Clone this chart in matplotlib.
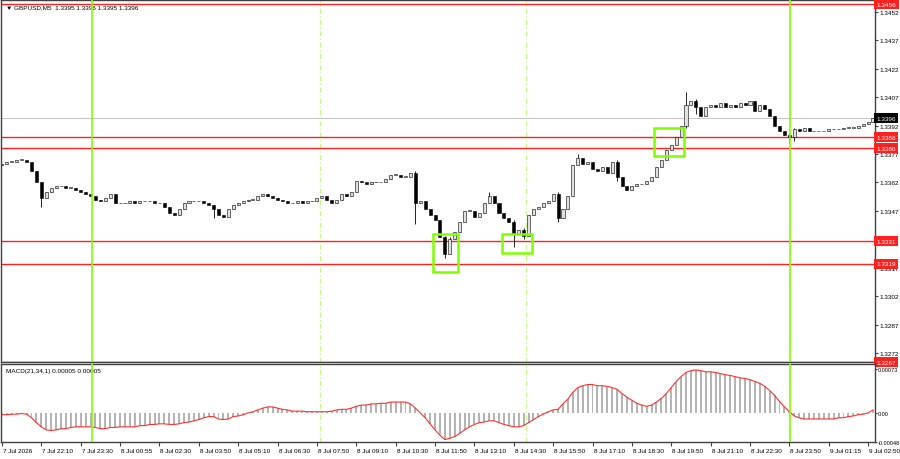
import numpy as np
import matplotlib.pyplot as plt
import matplotlib.transforms as mtransforms
from matplotlib.patches import Rectangle

plt.rcParams['font.family'] = ['Liberation Sans', 'DejaVu Sans']

# GBPUSD closes, one bar per 10 min
closes = [1.3372, 1.3373, 1.3373, 1.3374, 1.3374, 1.3373, 1.3368, 1.3362,
          1.3354, 1.3357, 1.3359, 1.3360, 1.3360, 1.3359, 1.3359, 1.3358,
          1.3357, 1.3356, 1.3355, 1.3353, 1.3352, 1.3354, 1.3356, 1.3351,
          1.3351, 1.3351, 1.3352, 1.3351, 1.3352, 1.3352, 1.3352, 1.3351,
          1.3351, 1.3349, 1.3346, 1.3345, 1.3348, 1.3351, 1.3352, 1.3352,
          1.3352, 1.3351, 1.3350, 1.3348, 1.3345, 1.3344, 1.3348, 1.3350,
          1.3351, 1.3352, 1.3353, 1.3353, 1.3355, 1.3356, 1.3355, 1.3354,
          1.3353, 1.3352, 1.3351, 1.3351, 1.3352, 1.3351, 1.3352, 1.3352,
          1.3354, 1.3355, 1.3353, 1.3351, 1.3353, 1.3356, 1.3355, 1.3357,
          1.3363, 1.3362, 1.3361, 1.3362, 1.3362, 1.3362, 1.3364, 1.3366,
          1.3366, 1.3365, 1.3365, 1.3367, 1.3351, 1.3352, 1.3348, 1.3345,
          1.3342, 1.3333, 1.3324, 1.3332, 1.3336, 1.3341, 1.3347, 1.3347,
          1.3344, 1.3346, 1.3351, 1.3355, 1.3351, 1.3346, 1.3343, 1.3341,
          1.3335, 1.3337, 1.3334, 1.3345, 1.3348, 1.3349, 1.3351, 1.3352,
          1.3356, 1.3343, 1.3348, 1.3355, 1.3371, 1.3375, 1.3372, 1.3373,
          1.3369, 1.3368, 1.3370, 1.3367, 1.3373, 1.3365, 1.3360, 1.3358,
          1.3360, 1.3361, 1.3361, 1.3363, 1.3365, 1.3370, 1.3374, 1.3379,
          1.3382, 1.3386, 1.3392, 1.3403, 1.3405, 1.3402, 1.3397, 1.3402,
          1.3403, 1.3402, 1.3404, 1.3402, 1.3403, 1.3402, 1.3404, 1.3403,
          1.3405, 1.3400, 1.3403, 1.3401, 1.3397, 1.3392, 1.3389, 1.3387,
          1.3386, 1.3390, 1.3389, 1.3391, 1.3389, 1.3389, 1.3389, 1.3389,
          1.3390, 1.3390, 1.3390, 1.3391, 1.3391, 1.3391, 1.3392, 1.3393,
          1.3394, 1.3396]
first_open = 1.3371

# wick extremes that stand out (bar index: (high, low))
wicks = {8: (1.3362, 1.3349), 43: (1.3350, 1.3343), 84: (1.3368, 1.3340),
         90: (1.3334, 1.3322), 91: (1.3333, 1.3324), 99: (1.3357, 1.3351),
         104: (1.3342, 1.3328), 106: (1.3338, 1.3332), 113: (1.3357, 1.3341),
         117: (1.3377, 1.3371), 125: (1.3374, 1.3363), 139: (1.3410, 1.3391),
         141: (1.3406, 1.3398), 160: (1.3388, 1.3383), 161: (1.3391, 1.3384)}

# MACD(21,34,1) in units of 1e-5
macd_e5 = [-3, -3, -2, -2, -1, -2, -8, -16, -23, -28, -29, -28, -26, -26, -24, -23,
           -23, -23, -23, -24, -26, -26, -24, -24, -23, -23, -23, -23, -21, -21, -19, -19,
           -18, -18, -19, -19, -18, -16, -15, -13, -11, -8, -6, -6, -10, -11, -10, -6,
           -5, -3, 0, 2, 5, 8, 10, 10, 8, 6, 5, 3, 3, 3, 2, 2,
           2, 2, 2, 3, 5, 6, 6, 8, 11, 13, 13, 15, 15, 16, 16, 18,
           18, 18, 18, 15, 8, 0, -8, -18, -28, -37, -44, -42, -39, -34, -28, -23,
           -19, -16, -15, -13, -13, -16, -19, -21, -23, -23, -21, -16, -11, -6, -2, 2,
           5, 6, 15, 23, 34, 42, 45, 47, 47, 45, 45, 44, 42, 39, 32, 26,
           21, 16, 13, 11, 13, 18, 24, 32, 42, 52, 60, 67, 70, 71, 70, 68,
           68, 67, 65, 63, 62, 60, 58, 57, 55, 52, 49, 44, 37, 29, 19, 10,
           2, -5, -8, -10, -10, -10, -10, -10, -10, -10, -8, -8, -6, -5, -3, -2,
           0, 5]

time_labels = ['7 Jul 2026', '7 Jul 22:10', '7 Jul 23:30', '8 Jul 00:55', '8 Jul 02:30',
               '8 Jul 03:50', '8 Jul 05:10', '8 Jul 06:30', '8 Jul 07:50', '8 Jul 09:10',
               '8 Jul 10:30', '8 Jul 11:50', '8 Jul 13:10', '8 Jul 14:30', '8 Jul 15:50',
               '8 Jul 17:10', '8 Jul 18:30', '8 Jul 19:50', '8 Jul 21:10', '8 Jul 22:30',
               '8 Jul 23:50', '9 Jul 01:15', '9 Jul 02:50']

levels = [1.3456, 1.3386, 1.3380, 1.3331, 1.3319, 1.3267]
last_price = 1.3396
# 1.3332 sits under the 1.3331 level tag, so it is left out
price_ticks = [1.3452, 1.3437, 1.3422, 1.3407, 1.3392, 1.3377, 1.3362, 1.3347,
               1.3317, 1.3302, 1.3287, 1.3272]
session_lines = [18.3, 160.2]
hour_lines = [64.6, 106.5]
# signal boxes: bar from, bar to, price low, price high
boxes = [(87.6, 92.7, 1.3315, 1.3335),
         (101.6, 107.7, 1.3325, 1.3335),
         (132.5, 138.6, 1.3376, 1.3391)]

n = len(closes)
x = np.arange(n)
closes = np.array(closes)
opens = np.concatenate([[first_open], closes[:-1]])
highs = np.maximum(opens, closes)
lows = np.minimum(opens, closes)
for i, (h, l) in wicks.items():
    highs[i] = max(highs[i], h)
    lows[i] = min(lows[i], l)
macd = np.array(macd_e5) * 1e-5

fig = plt.figure(figsize=(9, 4.6), dpi=100)
ax = fig.add_axes([0.0011, 0.2109, 0.9711, 0.7869])
ax2 = fig.add_axes([0.0011, 0.0370, 0.9711, 0.1696], sharex=ax)
fs = 4.6

# candles
up = closes >= opens
ax.vlines(x, lows, highs, color='black', lw=0.6, zorder=3)
body = np.maximum(np.abs(closes - opens), 0.00004)
ax.bar(x[up], body[up], bottom=opens[up], width=0.62, color='#e0e0e0',
       edgecolor='black', lw=0.4, zorder=4)
ax.bar(x[~up], body[~up], bottom=closes[~up], width=0.62, color='black',
       edgecolor='black', lw=0.4, zorder=4)

ax.axhline(last_price, color='#c8c8c8', lw=0.8, zorder=1)
for lv in levels:
    ax.axhline(lv, color='#ff2020', lw=1.0, zorder=2)

for a in (ax, ax2):
    for xv in session_lines:
        a.axvline(xv, color='#7fff00', lw=1.2, zorder=5)
    for xv in hour_lines:
        a.axvline(xv, color='#c8f58a', lw=0.9, ls=(0, (4, 2, 1, 2)), zorder=0)

for b0, b1, p0, p1 in boxes:
    ax.add_patch(Rectangle((b0, p0), b1 - b0, p1 - p0, fill=False,
                           edgecolor='#7fff00', lw=1.8, zorder=6))

ax.set_xlim(-0.2, 177.4)
ax.set_ylim(1.326724, 1.345833)
ax.yaxis.tick_right()
ax.set_yticks(price_ticks)
ax.set_yticklabels([f'{p:.4f}' for p in price_ticks])
ax.tick_params(axis='y', labelsize=fs, length=2, pad=1.5, color='#404040')
ax.tick_params(axis='x', bottom=False, labelbottom=False)

trans = mtransforms.blended_transform_factory(ax.transAxes, ax.transData)
for lv in levels:
    ax.text(1.0015, lv, f'{lv:.4f}', transform=trans, color='white', fontsize=fs,
            va='center', ha='left', clip_on=False, zorder=10,
            bbox=dict(boxstyle='square,pad=0.4', fc='#ff2020', ec='none'))
ax.text(1.0015, last_price, f'{last_price:.4f}', transform=trans, color='white',
        fontsize=fs, va='center', ha='left', clip_on=False, zorder=10,
        bbox=dict(boxstyle='square,pad=0.4', fc='black', ec='none'))

ax.text(0.006, 0.988, '\u25bc GBPUSD,M5  1.3395 1.3396 1.3395 1.3396', transform=ax.transAxes,
        fontsize=fs, va='top', ha='left', color='black')

# MACD panel
ax2.bar(x, macd, width=0.4, color='#b4b4b4', zorder=2)
ax2.plot(x, macd, color='#ff3030', lw=0.8, zorder=3)
ax2.set_ylim(-0.00047, 0.00081)
ax2.yaxis.tick_right()
ax2.set_yticks([0.00073, 0.0, -0.00048])
ax2.set_yticklabels(['0.00073', '0.00', '-0.00048'])
ax2.tick_params(axis='y', labelsize=4.0, length=1.5, pad=0.8, color='#404040')
ax2.text(0.006, 0.95, 'MACD(21,34,1) 0.00005 0.00005', transform=ax2.transAxes,
         fontsize=fs, va='top', ha='left', color='black')

tick_pos = np.arange(0, n, 8)[:len(time_labels)]
ax2.set_xticks(tick_pos)
ax2.set_xticklabels(time_labels, ha='left')
ax2.tick_params(axis='x', labelsize=fs, length=3, pad=1.5, color='#404040')
offset = mtransforms.ScaledTranslation(1 / 100, 0, fig.dpi_scale_trans)
for lab in ax2.get_xticklabels():
    lab.set_transform(lab.get_transform() + offset)

for a in (ax, ax2):
    for s in a.spines.values():
        s.set_color('#404040')
        s.set_linewidth(1.0)

fig.savefig('out.png', dpi=100, facecolor='white')
